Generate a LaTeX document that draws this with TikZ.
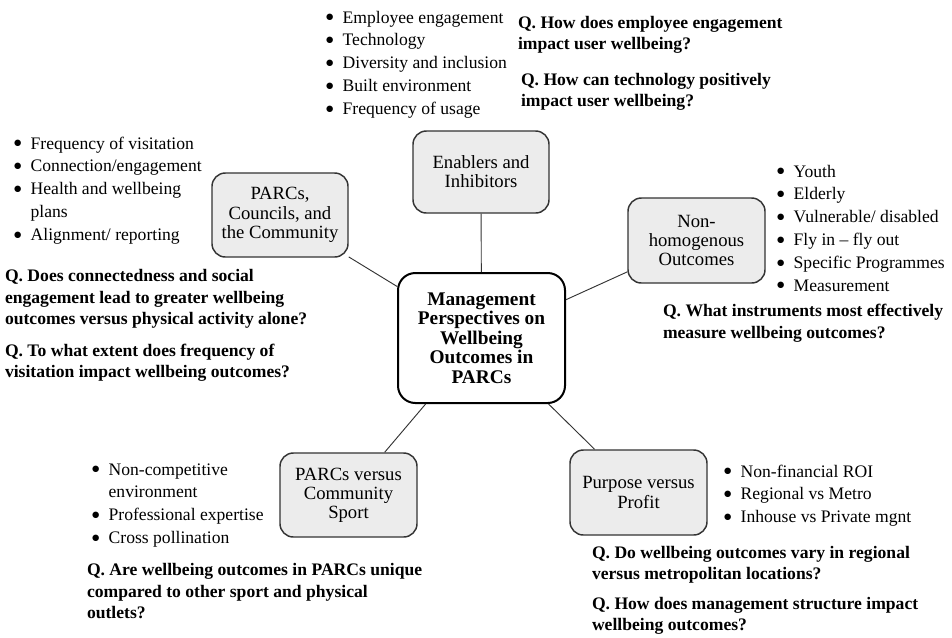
\documentclass[tikz,border=0pt]{standalone}
\usepackage{fontspec}
\setmainfont{Liberation Serif}
\newfontfamily\dotfont{DejaVu Sans}
\newcommand{\bl}{\makebox[12.5pt][l]{\raisebox{2.8pt}{\dotfont\fontsize{6.3}{6.3}\selectfont ●}}}
\newcommand{\listfont}{\fontsize{13.2}{17.2}\selectfont}
\newcommand{\qfont}{\fontsize{13.2}{16.2}\selectfont\bfseries}
\tikzset{
 box/.style={draw=black!80, line width=1.1pt, fill=gray!15, rounded corners=10pt, align=center, font=\fontsize{14}{14.4}\selectfont, inner sep=0pt},
 hub/.style={draw=black, line width=1.5pt, fill=white, rounded corners=13pt, align=center, font=\fontsize{14.5}{14.6}\selectfont\bfseries, inner sep=0pt},
 txt/.style={anchor=base west, inner sep=0pt, outer sep=0pt},
 link/.style={draw=black!80, line width=0.7pt},
}
\begin{document}
\begin{tikzpicture}[x=0.75pt,y=-0.75pt]
\useasboundingbox (0,0) rectangle (952,637);
% boxes
\node[hub, minimum width=125.25pt, minimum height=97.5pt] (hub) at (481.5,338) {Management\\Perspectives on\\Wellbeing\\Outcomes in\\PARCs};
\node[box, minimum width=102pt, minimum height=61.5pt] (enab) at (481,172) {Enablers and\\Inhibitors};
\node[box, minimum width=102pt, minimum height=63pt] (coun) at (280,215) {PARCs,\\Councils, and\\the Community};
\node[box, minimum width=102.75pt, minimum height=63.75pt] (nonh) at (696.5,240.5) {Non-\\homogenous\\Outcomes};
\node[box, minimum width=102.75pt, minimum height=63pt] (sport) at (348.5,495) {PARCs versus\\Community\\Sport};
\node[box, minimum width=102.75pt, minimum height=63.75pt] (purp) at (638.5,492.5) {Purpose versus\\Profit};
% links
\draw[link] (hub) -- (enab);
\draw[link] (hub) -- (coun);
\draw[link] (hub) -- (nonh);
\draw[link] (hub) -- (sport);
\draw[link] (hub) -- (purp);
% lists
\node[txt] (ltop) at (326,23) {\listfont\begin{tabular}[t]{@{}l@{}l@{}}\bl&Employee engagement\\\bl&Technology\\\bl&Diversity and inclusion\\\bl&Built environment\\\bl&Frequency of usage\end{tabular}};
\node[txt] (lleft) at (14,149) {\listfont\begin{tabular}[t]{@{}l@{}l@{}}\bl&Frequency of visitation\\\bl&Connection/engagement\\\bl&Health and wellbeing\\&plans\\\bl&Alignment/ reporting\end{tabular}};
\node[txt] (lright) at (777,177) {\listfont\begin{tabular}[t]{@{}l@{}l@{}}\bl&Youth\\\bl&Elderly\\\bl&Vulnerable/ disabled\\\bl&Fly in -- fly out\\\bl&Specific Programmes\\\bl&Measurement\end{tabular}};
\node[txt] (lbl) at (92,475) {\listfont\begin{tabular}[t]{@{}l@{}l@{}}\bl&Non-competitive\\&environment\\\bl&Professional expertise\\\bl&Cross pollination\end{tabular}};
\node[txt] (lbr) at (724,477) {\listfont\begin{tabular}[t]{@{}l@{}l@{}}\bl&Non-financial ROI\\\bl&Regional vs Metro\\\bl&Inhouse vs Private mgnt\end{tabular}};
% questions
\node[txt] (qt1) at (518,28) {\qfont\begin{tabular}[t]{@{}l@{}}Q. How does employee engagement\\impact user wellbeing?\end{tabular}};
\node[txt] (qt2) at (521,85) {\qfont\begin{tabular}[t]{@{}l@{}}Q. How can technology positively\\impact user wellbeing?\end{tabular}};
\node[txt] (ql1) at (5,281.7) {\qfont\begin{tabular}[t]{@{}l@{}}Q. Does connectedness and social\\engagement lead to greater wellbeing\\outcomes versus physical activity alone?\end{tabular}};
\node[txt] (ql2) at (5,356) {\qfont\begin{tabular}[t]{@{}l@{}}Q. To what extent does frequency of\\visitation impact wellbeing outcomes?\end{tabular}};
\node[txt] (qr) at (663,316.7) {\qfont\begin{tabular}[t]{@{}l@{}}Q. What instruments most effectively\\measure wellbeing outcomes?\end{tabular}};
\node[txt] (qbl) at (87,575.7) {\qfont\begin{tabular}[t]{@{}l@{}}Q. Are wellbeing outcomes in PARCs unique\\compared to other sport and physical\\outlets?\end{tabular}};
\node[txt] (qbr1) at (592,558) {\qfont\begin{tabular}[t]{@{}l@{}}Q. Do wellbeing outcomes vary in regional\\versus metropolitan locations?\end{tabular}};
\node[txt] (qbr2) at (592,609) {\qfont\begin{tabular}[t]{@{}l@{}}Q. How does management structure impact\\wellbeing outcomes?\end{tabular}};
\end{tikzpicture}
\end{document}
